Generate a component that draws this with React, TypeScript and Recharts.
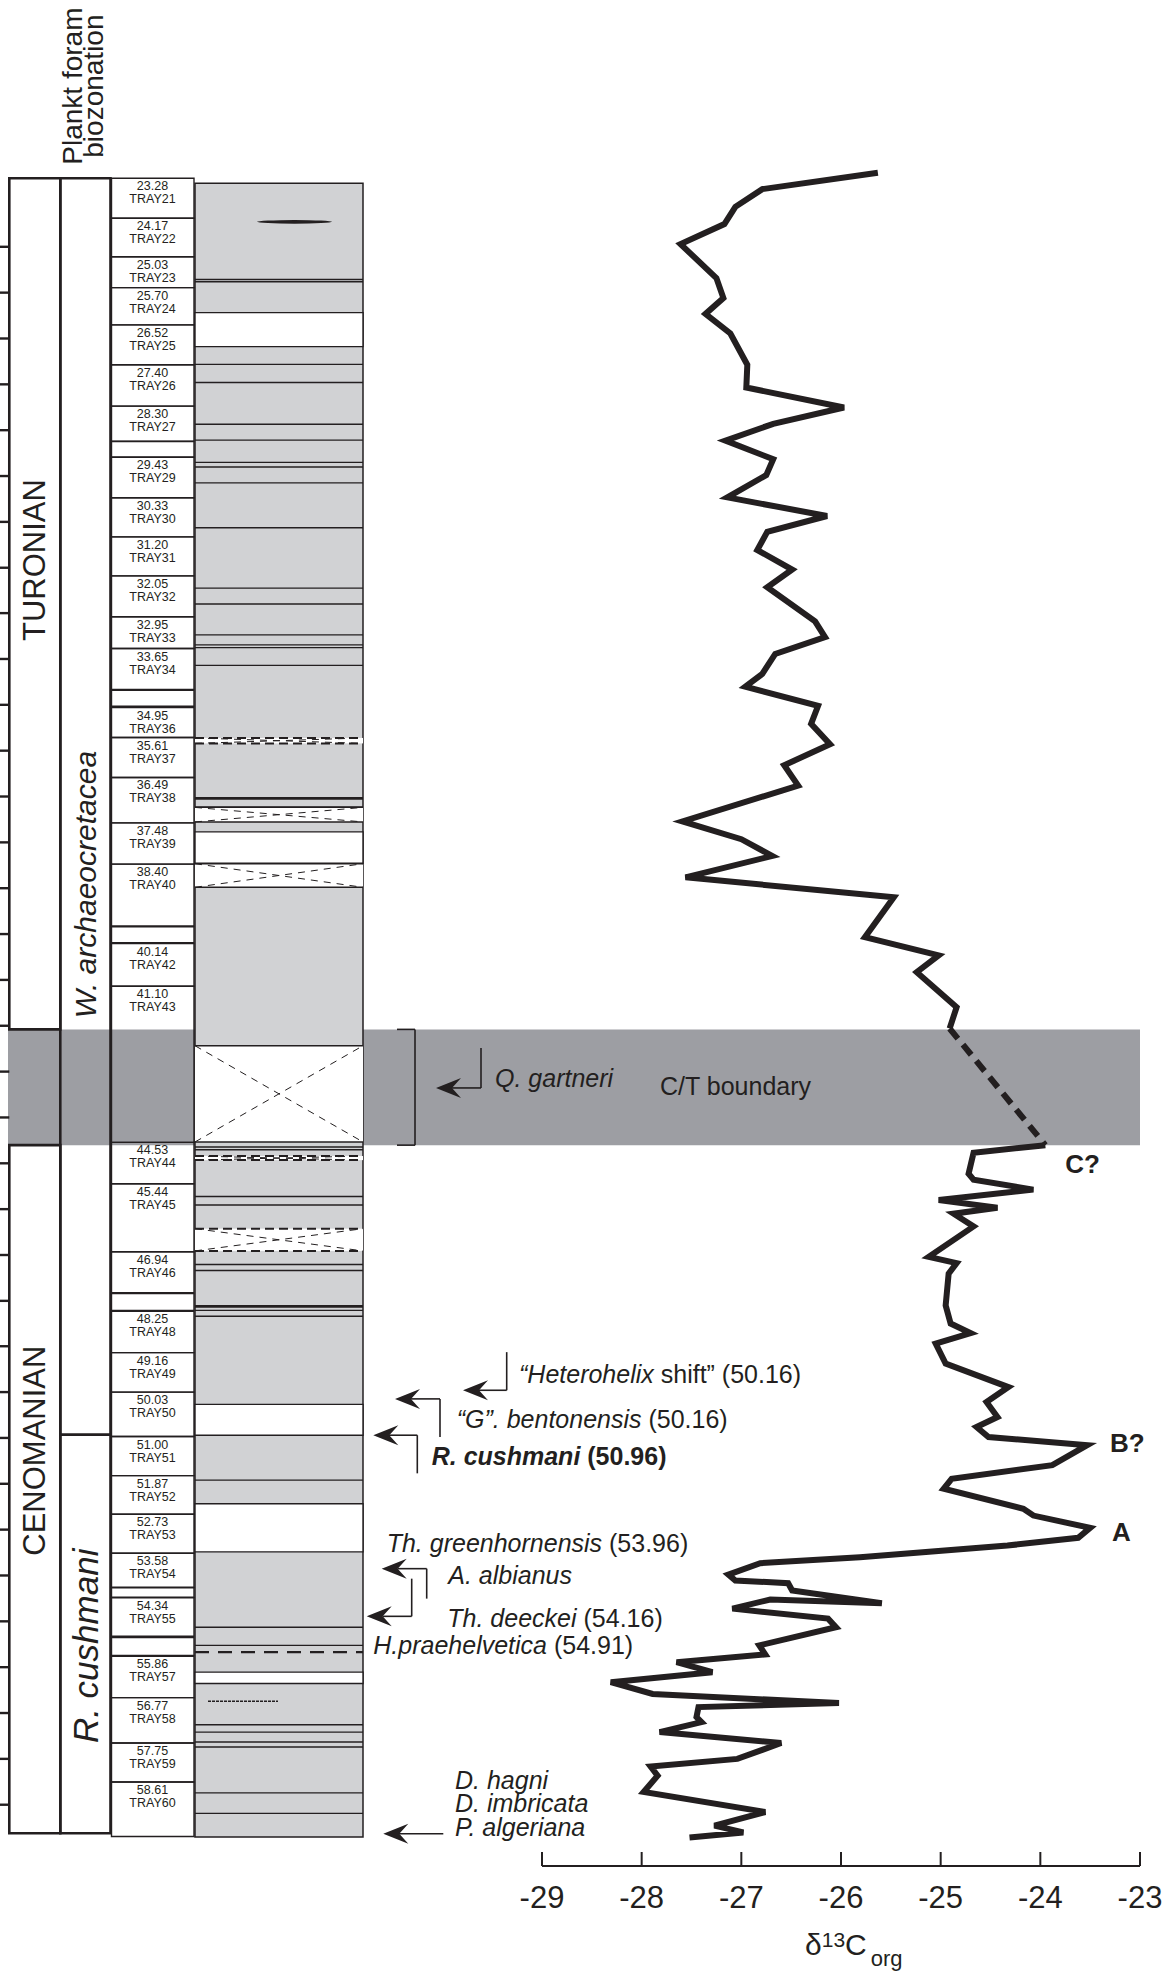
import React from 'react'
import {
  ComposedChart,
  XAxis,
  YAxis,
  Line,
  ReferenceArea,
  ReferenceLine,
  ReferenceDot,
} from 'recharts'

// ---------- data ----------

// d13C org curve above the C/T gap (depth in m, value in per mil)
const upperDepth = [
  23.16, 23.52, 23.91, 24.29, 24.73, 25.48, 25.92, 26.27, 26.7, 27.39, 27.89, 28.33, 28.69, 29.06,
  29.47, 29.82, 30.31, 30.72, 31.07, 31.47, 31.9, 32.29, 33.04, 33.39, 33.76, 34.2, 34.48, 34.9,
  35.3, 35.75, 36.21, 36.66, 37.45, 37.84, 38.21, 38.68, 39.12, 40.0, 40.4, 40.77, 41.54, 42.01,
]
const upperD13C = [
  -25.63, -26.79, -27.06, -27.17, -27.61, -27.25, -27.18, -27.36, -27.11, -26.94, -26.95, -25.97,
  -26.68, -27.16, -26.68, -26.75, -27.14, -26.14, -26.74, -26.84, -26.49, -26.74, -26.26, -26.16,
  -26.66, -26.79, -26.96, -26.23, -26.3, -26.11, -26.57, -26.43, -27.59, -27.0, -26.69, -27.56,
  -25.47, -25.76, -25.02, -25.24, -24.84, -24.91,
]

// d13C org curve below the C/T gap
const lowerDepth = [
  44.58, 44.75, 45.21, 45.34, 45.56, 45.79, 45.96, 46.09, 46.37, 47.04, 47.18, 47.41, 48.11, 48.51,
  48.72, 48.95, 49.39, 49.91, 50.24, 50.57, 50.79, 51.01, 51.19, 51.63, 51.93, 52.15, 52.59, 52.74,
  53.01, 53.23, 53.4, 53.66, 53.79, 54.04, 54.17, 54.23, 54.39, 54.67, 54.59, 54.79, 55.01, 55.2,
  55.6, 55.8, 55.97, 56.19, 56.41, 56.67, 56.87, 56.96, 57.18, 57.29, 57.51, 57.75, 58.1, 58.27,
  58.47, 58.83, 59.27, 59.57, 59.72, 59.83,
]
const lowerD13C = [
  -23.95, -24.67, -24.72, -24.67, -24.07, -25.02, -24.43, -24.87, -24.67, -25.12, -24.84, -24.92,
  -24.95, -24.9, -24.7, -25.05, -24.95, -24.32, -24.54, -24.43, -24.64, -24.52, -23.53, -23.88,
  -24.89, -24.97, -24.17, -24.07, -23.5, -23.62, -24.33, -25.81, -26.81, -27.13, -27.06, -26.53,
  -26.49, -25.59, -26.71, -27.09, -26.13, -26.05, -26.82, -26.76, -27.65, -27.29, -28.31, -27.89,
  -26.02, -27.43, -27.45, -27.4, -27.82, -26.6, -27.04, -27.91, -27.84, -27.98, -26.76, -27.27,
  -26.98, -27.52,
]

const d13cTicks = [-29, -28, -27, -26, -25, -24, -23]

// metre ticks on the far left
const depthTicks = [
  24.79, 25.8, 26.81, 27.82, 28.83, 29.84, 30.85, 31.86, 32.86, 33.87, 34.88, 35.89, 36.9, 37.91,
  38.92, 39.93, 40.94, 41.95, 42.96, 43.97, 44.98, 45.99, 47.0, 48.01, 49.01, 50.02, 51.03, 52.04,
  53.05, 54.06, 55.07, 56.08, 57.09, 58.1, 59.11,
]

// core trays
const trayNames = [
  'TRAY21', 'TRAY22', 'TRAY23', 'TRAY24', 'TRAY25', 'TRAY26', 'TRAY27', 'TRAY29', 'TRAY30', 'TRAY31',
  'TRAY32', 'TRAY33', 'TRAY34', 'TRAY36', 'TRAY37', 'TRAY38', 'TRAY39', 'TRAY40', 'TRAY42', 'TRAY43',
  'TRAY44', 'TRAY45', 'TRAY46', 'TRAY48', 'TRAY49', 'TRAY50', 'TRAY51', 'TRAY52', 'TRAY53', 'TRAY54',
  'TRAY55', 'TRAY57', 'TRAY58', 'TRAY59', 'TRAY60',
]
const trayDepthLabels = [
  '23.28', '24.17', '25.03', '25.70', '26.52', '27.40', '28.30', '29.43', '30.33', '31.20',
  '32.05', '32.95', '33.65', '34.95', '35.61', '36.49', '37.48', '38.40', '40.14', '41.10',
  '44.53', '45.44', '46.94', '48.25', '49.16', '50.03', '51.00', '51.87', '52.73', '53.58',
  '54.34', '55.86', '56.77', '57.75', '58.61',
]
const trayTop = [
  23.28, 24.16, 25.01, 25.69, 26.51, 27.39, 28.3, 29.43, 30.32, 31.18, 32.04, 32.94, 33.64, 34.94,
  35.6, 36.48, 37.48, 38.39, 40.14, 41.08, 44.52, 45.43, 46.93, 48.24, 49.15, 50.02, 51.0, 51.86,
  52.71, 53.57, 54.55, 55.84, 56.75, 57.75, 58.61,
]
const trayBottom = [
  24.16, 25.01, 25.69, 26.51, 27.39, 28.3, 29.07, 30.32, 31.18, 32.04, 32.94, 33.64, 34.54, 35.6,
  36.48, 37.48, 38.39, 39.75, 41.08, 44.52, 45.43, 46.93, 47.83, 49.15, 50.02, 51.0, 51.86, 52.71,
  53.57, 54.32, 55.4, 56.75, 57.75, 58.61, 59.81,
]
const emptyTrays = [
  [29.08, 29.42], [34.56, 34.91], [39.77, 40.12], [47.85, 48.22], [54.33, 54.54], [55.43, 55.82],
]

// lithology
const lithTop = 23.39
const lithBottom = 59.82
const whiteBeds = [[26.24, 26.99], [37.68, 38.37], [50.29, 50.97], [52.48, 53.54], [56.19, 56.44]]
const missingBeds = [[37.14, 37.46], [38.38, 38.9], [42.39, 44.51]]
const missingThin = [[35.61, 35.73], [44.82, 44.91], [46.42, 46.91]]
const bedLines = [
  25.51, 25.56, 27.38, 27.78, 28.7, 29.05, 29.54, 29.64, 29.99, 30.98, 32.31, 32.66, 33.34, 33.56,
  33.62, 34.01, 37.13, 44.62, 44.68, 45.71, 45.9, 47.21, 47.34, 48.22, 48.35, 51.96, 55.2, 55.6,
  57.35, 57.51, 57.73, 57.84, 58.85, 59.3,
]
const thickBedLines = [36.94, 48.13]
const dashedBedLines = [55.75]
const lensDepths = [24.24, 56.83]

// stratigraphy
const sectionTop = 23.28
const sectionBottom = 59.74
const ctBand = [42.03, 44.58]
const zoneBoundary = 50.96

// ---------- layout ----------
const W = 1165
const H = 1973
const TOP = 161
const DEPTH_DOMAIN: [number, number] = [22.9, 60.46]
const INK = '#231f20'
const LITH = '#d1d2d4'
const BAND = '#9d9ea3'
const FONT = '"Liberation Sans", Arial, Helvetica, sans-serif'

const X_STAGE = 9.3
const X_ZONE = 60.3
const X_TRAYCOL = 110.5
const X_TRAY_L = 111.5
const X_TRAY_R = 194
const X_TRAY_MID = 152.5
const X_LITH_L = 195
const X_LITH_R = 363
const X_BAND_L = 8
const X_BAND_R = 1140

const upper = upperDepth.map((depth, i) => ({ depth, d13c: upperD13C[i] }))
const lower = lowerDepth.map((depth, i) => ({ depth, d13c: lowerD13C[i] }))
const gap = [upper[upper.length - 1], lower[0]]

// ---------- little helpers ----------
const mark = (
  key: string,
  x: number,
  y: number,
  draw: (cx: number, cy: number) => React.ReactElement,
  visible = true,
) => (
  <ReferenceDot
    key={key}
    x={x}
    y={y}
    r={0}
    ifOverflow={visible ? 'visible' : 'discard'}
    shape={(p: any) => draw(p.cx, p.cy)}
  />
)

const seg = (key: string, x1: number, y1: number, x2: number, y2: number, w = 1.6, dash?: string) => (
  <ReferenceLine
    key={key}
    segment={[{ x: x1, y: y1 }, { x: x2, y: y2 }]}
    stroke={INK}
    strokeWidth={w}
    strokeDasharray={dash}
    ifOverflow="visible"
  />
)

const arrowHead = (cx: number, cy: number) => (
  <path
    d={`M${cx},${cy} L${cx + 25},${cy - 10} L${cx + 16},${cy} L${cx + 25},${cy + 10} Z`}
    fill={INK}
  />
)

const hatch = (dashedEdges: boolean) => (p: any) => {
  const { x, y, width, height } = p
  return (
    <g>
      <rect x={x} y={y} width={width} height={height} fill="#fff" stroke="none" />
      <line x1={x} x2={x + width} y1={y} y2={y} stroke={INK} strokeWidth={dashedEdges ? 2 : 1.4} strokeDasharray={dashedEdges ? '9 5' : undefined} />
      <line x1={x} x2={x + width} y1={y + height} y2={y + height} stroke={INK} strokeWidth={dashedEdges ? 2 : 1.4} strokeDasharray={dashedEdges ? '9 5' : undefined} />
      <line x1={x} y1={y} x2={x + width} y2={y + height} stroke={INK} strokeWidth={1} strokeDasharray="7 6" />
      <line x1={x} y1={y + height} x2={x + width} y2={y} stroke={INK} strokeWidth={1} strokeDasharray="7 6" />
    </g>
  )
}

const txt = (size: number, extra: any = {}) => ({ fontSize: size, fill: INK, fontFamily: FONT, ...extra })

function D13CTick(props: any) {
  const { x, y, payload } = props
  return (
    <g>
      <line x1={x} x2={x} y1={y - 14} y2={y} stroke={INK} strokeWidth={2} />
      <text x={x} y={y + 42} textAnchor="middle" {...txt(31)}>
        {payload.value}
      </text>
    </g>
  )
}

function AxisTitle(props: any) {
  const { viewBox } = props
  const x0 = viewBox.x + 263
  const base = viewBox.y + 89
  return (
    <text x={x0} y={base} {...txt(30)}>
      δ
      <tspan fontSize={21} dy={-8}>13</tspan>
      <tspan dy={8}>C</tspan>
      <tspan fontSize={22} dx={4} dy={11}>org</tspan>
    </text>
  )
}

export default function App() {
  const left: React.ReactElement[] = []

  // metre ticks
  depthTicks.forEach((d, i) => left.push(seg(`t${i}`, 0, d, X_STAGE, d, 2.4)))

  // C/T boundary band
  left.push(
    <ReferenceArea key="band" x1={X_BAND_L} x2={X_BAND_R} y1={ctBand[0]} y2={ctBand[1]} fill={BAND} fillOpacity={1} stroke="none" ifOverflow="visible" />,
  )

  // stage + zone boxes
  const frame = (key: string, x1: number, x2: number, y1: number, y2: number) => (
    <ReferenceArea key={key} x1={x1} x2={x2} y1={y1} y2={y2} fill="none" stroke={INK} strokeWidth={2.6} ifOverflow="visible" />
  )
  left.push(frame('turonian', X_STAGE, X_ZONE, sectionTop, ctBand[0]))
  left.push(frame('cenomanian', X_STAGE, X_ZONE, ctBand[1], sectionBottom))
  left.push(frame('zoneW', X_ZONE, X_TRAYCOL, sectionTop, zoneBoundary))
  left.push(frame('zoneR', X_ZONE, X_TRAYCOL, zoneBoundary, sectionBottom))

  // trays
  trayTop.forEach((t, i) =>
    left.push(
      <ReferenceArea key={`tray${i}`} x1={X_TRAY_L} x2={X_TRAY_R} y1={t} y2={trayBottom[i]} fill="none" stroke={INK} strokeWidth={1.4} ifOverflow="visible" />,
    ),
  )
  emptyTrays.forEach(([a, b], i) =>
    left.push(
      <ReferenceArea key={`empty${i}`} x1={X_TRAY_L} x2={X_TRAY_R} y1={a} y2={b} fill="none" stroke={INK} strokeWidth={1.4} ifOverflow="visible" />,
    ),
  )

  // lithology column
  left.push(
    <ReferenceArea key="lith" x1={X_LITH_L} x2={X_LITH_R} y1={lithTop} y2={lithBottom} fill={LITH} fillOpacity={1} stroke={INK} strokeWidth={1.5} ifOverflow="visible" />,
  )
  whiteBeds.forEach(([a, b], i) =>
    left.push(
      <ReferenceArea key={`white${i}`} x1={X_LITH_L} x2={X_LITH_R} y1={a} y2={b} fill="#fff" fillOpacity={1} stroke={INK} strokeWidth={1.4} ifOverflow="visible" />,
    ),
  )
  missingBeds.forEach(([a, b], i) =>
    left.push(
      <ReferenceArea key={`miss${i}`} x1={X_LITH_L} x2={X_LITH_R} y1={a} y2={b} ifOverflow="visible" shape={hatch(false)} />,
    ),
  )
  missingThin.forEach(([a, b], i) =>
    left.push(
      <ReferenceArea key={`missT${i}`} x1={X_LITH_L} x2={X_LITH_R} y1={a} y2={b} ifOverflow="visible" shape={hatch(true)} />,
    ),
  )
  bedLines.forEach((d, i) => left.push(seg(`bed${i}`, X_LITH_L, d, X_LITH_R, d, 1.4)))
  thickBedLines.forEach((d, i) => left.push(seg(`bedT${i}`, X_LITH_L, d, X_LITH_R, d, 2.8)))
  dashedBedLines.forEach((d, i) => left.push(seg(`bedD${i}`, X_LITH_L, d, X_LITH_R, d, 2.2, '14 9')))
  left.push(
    mark('lens0', (257 + 332) / 2, lensDepths[0], (cx, cy) => (
      <ellipse cx={cx} cy={cy} rx={37.5} ry={1.8} fill={INK} />
    )),
  )
  left.push(seg('lens1', 208, lensDepths[1], 278, lensDepths[1], 1.4, '3 1'))

  // stage, zone and tray text
  const rotated = (key: string, x: number, y: number, label: string, size: number, extra: any = {}) =>
    mark(key, x, y, (cx, cy) => (
      <text transform={`translate(${cx},${cy}) rotate(-90)`} textAnchor="middle" dominantBaseline="central" {...txt(size, extra)}>
        {label}
      </text>
    ))
  left.push(rotated('turLab', (X_STAGE + X_ZONE) / 2, 31.69, 'TURONIAN', 31))
  left.push(rotated('cenLab', (X_STAGE + X_ZONE) / 2, 51.31, 'CENOMANIAN', 31))
  left.push(rotated('wLab', (X_ZONE + X_TRAYCOL) / 2, 38.84, 'W. archaeocretacea', 30, { fontStyle: 'italic' }))
  left.push(rotated('rLab', (X_ZONE + X_TRAYCOL) / 2, 55.61, 'R. cushmani', 35, { fontStyle: 'italic' }))

  left.push(
    mark('head', 82, 21.25, (cx, cy) => (
      <g>
        <text transform={`translate(${cx},${cy}) rotate(-90)`} textAnchor="middle" {...txt(28)}>Plankt foram</text>
        <text transform={`translate(${cx + 21},${cy}) rotate(-90)`} textAnchor="middle" {...txt(28)}>biozonation</text>
      </g>
    )),
  )

  trayTop.forEach((t, i) =>
    left.push(
      mark(`tl${i}`, X_TRAY_MID, t, (cx, cy) => (
        <g>
          <text x={cx} y={cy + 12} textAnchor="middle" {...txt(12.5)}>{trayDepthLabels[i]}</text>
          <text x={cx} y={cy + 25} textAnchor="middle" {...txt(12.5)}>{trayNames[i]}</text>
        </g>
      )),
    ),
  )

  // C/T bracket and Q. gartneri
  left.push(seg('brV', 415, ctBand[0], 415, ctBand[1], 1.6))
  left.push(seg('brT', 397, ctBand[0], 415, ctBand[0], 1.6))
  left.push(seg('brB', 397, ctBand[1], 415, ctBand[1], 1.6))
  left.push(seg('qV', 481, 42.44, 481, 43.32, 1.6))
  left.push(seg('qH', 452, 43.32, 481, 43.32, 1.6))
  left.push(mark('qA', 436, 43.32, arrowHead))
  left.push(mark('qT', 495, 43.3, (cx, cy) => <text x={cx} y={cy} {...txt(25, { fontStyle: 'italic' })}>Q. gartneri</text>))
  left.push(mark('ctT', 660, 43.48, (cx, cy) => <text x={cx} y={cy} {...txt(25)}>C/T boundary</text>))

  // biostratigraphic events
  left.push(seg('hV', 506.7, 49.14, 506.7, 49.98))
  left.push(seg('hH', 479, 49.98, 506.7, 49.98))
  left.push(mark('hA', 463, 49.98, arrowHead))
  left.push(
    mark('hT', 519, 49.83, (cx, cy) => (
      <text x={cx} y={cy} {...txt(25)}>
        <tspan fontStyle="italic">“Heterohelix</tspan> shift” (50.16)
      </text>
    )),
  )
  left.push(seg('gV', 440, 51.01, 440, 50.17))
  left.push(seg('gH', 411, 50.17, 440, 50.17))
  left.push(mark('gA', 395, 50.17, arrowHead))
  left.push(
    mark('gT', 456.7, 50.82, (cx, cy) => (
      <text x={cx} y={cy} {...txt(25)}>
        <tspan fontStyle="italic">“G”. bentonensis</tspan> (50.16)
      </text>
    )),
  )
  left.push(seg('rV', 417.3, 51.81, 417.3, 50.97))
  left.push(seg('rH', 389, 50.97, 417.3, 50.97))
  left.push(mark('rA', 373.3, 50.97, arrowHead))
  left.push(
    mark('rT', 431.7, 51.63, (cx, cy) => (
      <text x={cx} y={cy} {...txt(25, { fontWeight: 'bold' })}>
        <tspan fontStyle="italic">R. cushmani</tspan> (50.96)
      </text>
    )),
  )
  left.push(
    mark('tgT', 386.7, 53.54, (cx, cy) => (
      <text x={cx} y={cy} {...txt(25)}>
        <tspan fontStyle="italic">Th. greenhornensis</tspan> (53.96)
      </text>
    )),
  )
  left.push(seg('aV', 426.7, 54.57, 426.7, 53.91))
  left.push(seg('aH', 398, 53.91, 426.7, 53.91))
  left.push(mark('aA', 381.7, 53.91, arrowHead))
  left.push(mark('aT', 448.3, 54.24, (cx, cy) => <text x={cx} y={cy} {...txt(25, { fontStyle: 'italic' })}>A. albianus</text>))
  left.push(seg('dV', 411.7, 54.13, 411.7, 54.96))
  left.push(seg('dH', 383, 54.96, 411.7, 54.96))
  left.push(mark('dA', 366.7, 54.96, arrowHead))
  left.push(
    mark('dT', 447.3, 55.2, (cx, cy) => (
      <text x={cx} y={cy} {...txt(25)}>
        <tspan fontStyle="italic">Th. deeckei</tspan> (54.16)
      </text>
    )),
  )
  left.push(
    mark('hpT', 373.3, 55.78, (cx, cy) => (
      <text x={cx} y={cy} {...txt(25)}>
        <tspan fontStyle="italic">H.praehelvetica</tspan> (54.91)
      </text>
    )),
  )
  left.push(mark('dhT', 455, 58.76, (cx, cy) => <text x={cx} y={cy} {...txt(25, { fontStyle: 'italic' })}>D. hagni</text>))
  left.push(mark('diT', 455, 59.27, (cx, cy) => <text x={cx} y={cy} {...txt(25, { fontStyle: 'italic' })}>D. imbricata</text>))
  left.push(mark('paT', 455, 59.79, (cx, cy) => <text x={cx} y={cy} {...txt(25, { fontStyle: 'italic' })}>P. algeriana</text>))
  left.push(seg('pH', 399, 59.75, 443.3, 59.75))
  left.push(mark('pA', 383.3, 59.75, arrowHead))

  const peak = (key: string, x: number, y: number, label: string) => (
    <ReferenceDot
      key={key}
      x={x}
      y={y}
      r={0}
      ifOverflow="visible"
      shape={(p: any) => (
        <text x={p.cx} y={p.cy} {...txt(26, { fontWeight: 'bold' })}>
          {label}
        </text>
      )}
    />
  )

  return (
    <div style={{ position: 'absolute', left: 0, top: 0, width: W, height: H, background: '#fff', fontFamily: FONT }}>
      <div style={{ position: 'absolute', left: 0, top: 0 }}>
        <ComposedChart width={W} height={H} margin={{ top: TOP, right: 0, bottom: 107, left: 0 }}>
          <XAxis type="number" dataKey="x" domain={[0, W]} allowDataOverflow hide />
          <YAxis type="number" dataKey="y" domain={DEPTH_DOMAIN} reversed allowDataOverflow hide />
          {left}
        </ComposedChart>
      </div>
      <div style={{ position: 'absolute', left: 0, top: 0 }}>
        {/* vertical layout already runs the y axis downwards */}
        <ComposedChart layout="vertical" width={W} height={H} margin={{ top: TOP, right: 25, bottom: 27, left: 542 }}>
          <XAxis
            type="number"
            domain={[-29, -23]}
            ticks={d13cTicks}
            interval={0}
            allowDataOverflow
            height={80}
            axisLine={{ stroke: INK, strokeWidth: 2 }}
            tickLine={false}
            tickSize={0}
            tickMargin={0}
            tick={<D13CTick />}
            label={<AxisTitle />}
          />
          <YAxis type="number" dataKey="depth" domain={DEPTH_DOMAIN} allowDataOverflow hide />
          <Line data={upper} dataKey="d13c" type="linear" stroke={INK} strokeWidth={6} strokeLinejoin="miter" strokeMiterlimit={4} dot={false} activeDot={false} isAnimationActive={false} />
          <Line data={gap} dataKey="d13c" type="linear" stroke={INK} strokeWidth={6} strokeDasharray="13 8" dot={false} activeDot={false} isAnimationActive={false} />
          <Line data={lower} dataKey="d13c" type="linear" stroke={INK} strokeWidth={6} strokeLinejoin="miter" strokeMiterlimit={4} dot={false} activeDot={false} isAnimationActive={false} />
          {peak('pkC', -23.75, 45.2, 'C?')}
          {peak('pkB', -23.3, 51.35, 'B?')}
          {peak('pkA', -23.28, 53.29, 'A')}
        </ComposedChart>
      </div>
    </div>
  )
}
